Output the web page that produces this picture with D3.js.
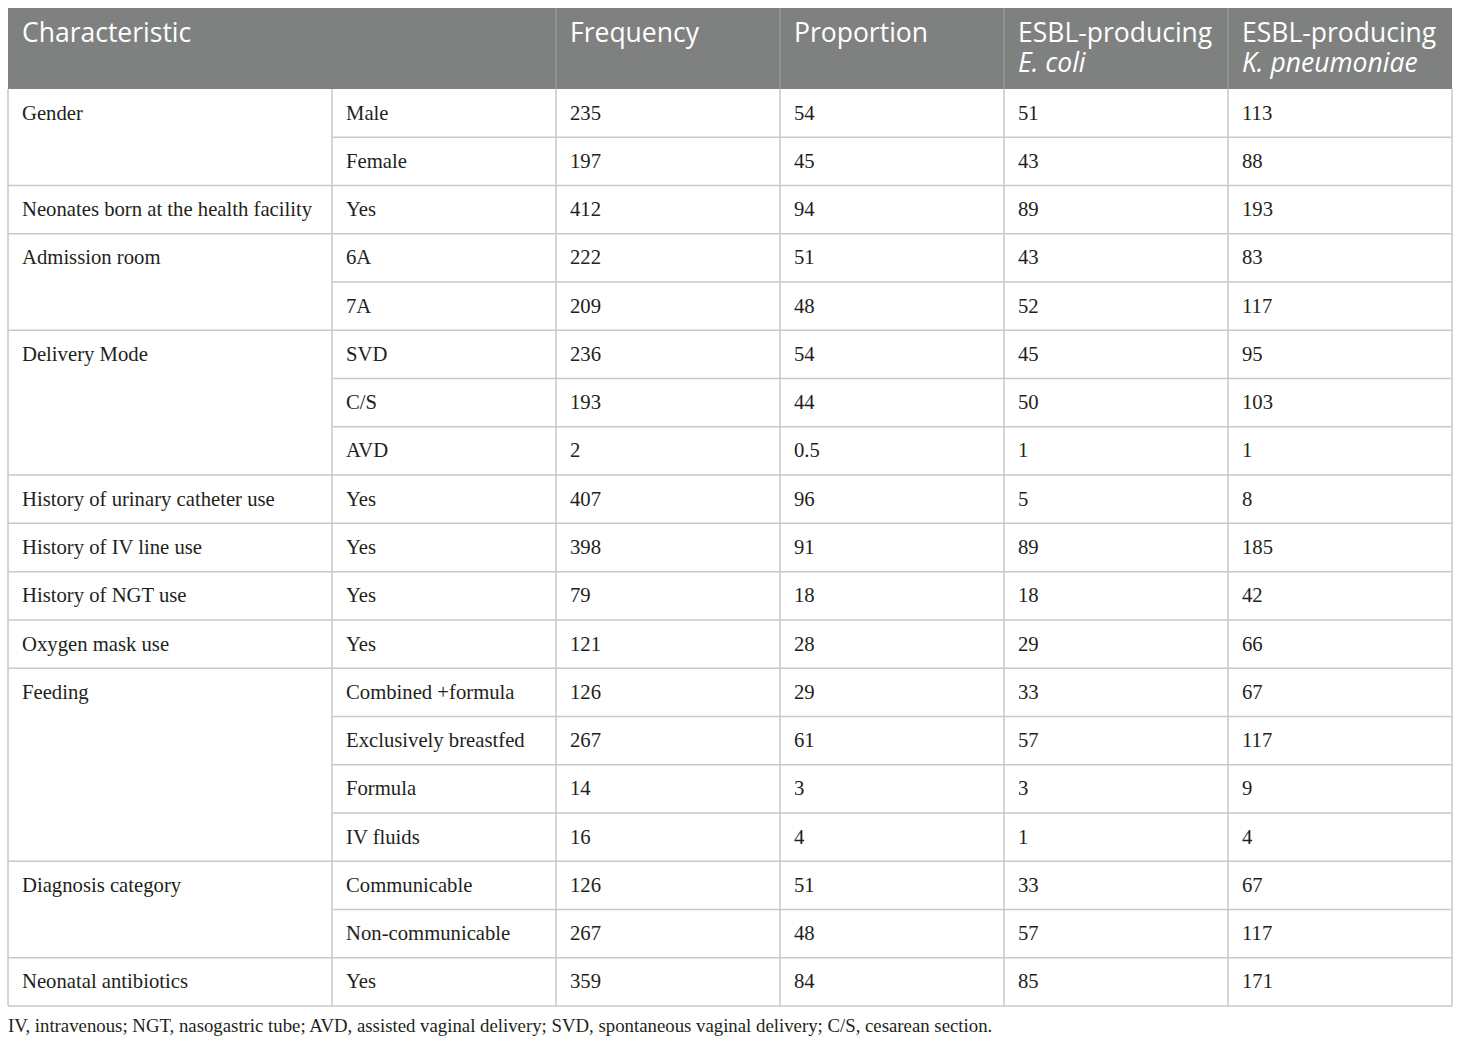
<!DOCTYPE html>
<html>
<head>
<meta charset="utf-8">
<script src="https://cdn.jsdelivr.net/npm/d3@7"></script>
<style>
    body { margin: 0; background: #fff; }
    .head { font-family: "Open Sans", sans-serif; fill: #fff; font-size: 26.5px; }
    .cell { font-family: "Liberation Serif", serif; fill: #231f20; font-size: 20.7px; }
    .note { font-family: "Liberation Serif", serif; fill: #231f20; font-size: 18.8px; }
</style>
</head>
<body>
<div id="canvas"></div>
<script>
"use strict"

let svgWidth = 1460
let svgHeight = 1044

// ---------------- DATA ----------------
let headers = ["Characteristic", "", "Frequency", "Proportion", "ESBL-producing", "ESBL-producing"]
let headers2 = ["", "", "", "", "E. coli", "K. pneumoniae"]

let characteristic = [
    "Gender", "Gender",
    "Neonates born at the health facility",
    "Admission room", "Admission room",
    "Delivery Mode", "Delivery Mode", "Delivery Mode",
    "History of urinary catheter use",
    "History of IV line use",
    "History of NGT use",
    "Oxygen mask use",
    "Feeding", "Feeding", "Feeding", "Feeding",
    "Diagnosis category", "Diagnosis category",
    "Neonatal antibiotics"
]
let level = ["Male", "Female", "Yes", "6A", "7A", "SVD", "C/S", "AVD", "Yes", "Yes", "Yes", "Yes",
    "Combined +formula", "Exclusively breastfed", "Formula", "IV fluids",
    "Communicable", "Non-communicable", "Yes"]
let frequency = [235, 197, 412, 222, 209, 236, 193, 2, 407, 398, 79, 121, 126, 267, 14, 16, 126, 267, 359]
let proportion = [54, 45, 94, 51, 48, 54, 44, 0.5, 96, 91, 18, 28, 29, 61, 3, 4, 51, 48, 84]
let eColi = [51, 43, 89, 43, 52, 45, 50, 1, 5, 89, 18, 29, 33, 57, 3, 1, 33, 57, 85]
let kPneumoniae = [113, 88, 193, 83, 117, 95, 103, 1, 8, 185, 42, 66, 67, 117, 9, 4, 67, 117, 171]

let footnote = "IV, intravenous; NGT, nasogastric tube; AVD, assisted vaginal delivery; SVD, spontaneous vaginal delivery; C/S, cesarean section."

// ---------------- LAYOUT ----------------
let tableLeft = 8
let tableRight = 1452
let headTop = 8
let headBottom = 89
let tableBottom = 1006
let padX = 14
let gridColor = "#c9c9c9"

let svg = d3.select("#canvas")
    .append("svg")
    .attr("width", svgWidth)
    .attr("height", svgHeight)

// first column is wider, the rest share equal widths
let colWeights = [324, 224, 224, 224, 224, 224]
let colEdges = d3.cumsum([0].concat(colWeights))
let xScale = d3.scaleLinear()
    .domain([0, d3.sum(colWeights)])
    .range([tableLeft, tableRight])
let colX = function(i) { return xScale(colEdges[i]) }

let rowIdx = d3.range(level.length)
let yScale = d3.scaleBand()
    .domain(rowIdx)
    .range([headBottom, tableBottom])

let columns = [level, frequency, proportion, eColi, kPneumoniae]

// group rows that share a characteristic
let groups = []
rowIdx.forEach(function(i) {
    if (i === 0 || characteristic[i] !== characteristic[i - 1]) {
        groups.push({ label: characteristic[i], start: i, end: i })
    } else {
        groups[groups.length - 1].end = i
    }
})

// ---------------- HEADER ----------------
svg.append("rect")
    .attr("x", tableLeft)
    .attr("y", headTop)
    .attr("width", tableRight - tableLeft)
    .attr("height", headBottom - headTop)
    .attr("fill", "#7f8180")

svg.selectAll("line.headSep")
    .data([2, 3, 4, 5])
    .enter()
    .append("line")
    .attr("class", "headSep")
    .attr("x1", function(d) { return colX(d) })
    .attr("x2", function(d) { return colX(d) })
    .attr("y1", headTop)
    .attr("y2", headBottom)
    .attr("stroke", "#a3a4a4")
    .attr("stroke-width", 1)

// one text per header cell, the species name wraps onto a second line
let headCells = svg.selectAll("text.headCell")
    .data(headers.map(function(d, i) { return { line1: d, line2: headers2[i], col: i } })
        .filter(function(d) { return d.line1 !== "" }))
    .enter()
    .append("text")
    .attr("class", "head headCell")
    .attr("y", 42)

headCells.append("tspan")
    .attr("x", function(d) { return colX(d.col) + padX })
    .text(function(d) { return d.line1 })

headCells.filter(function(d) { return d.line2 !== "" })
    .append("tspan")
    .attr("x", function(d) { return colX(d.col) + padX })
    .attr("dy", 30)
    .attr("font-style", "italic")
    .text(function(d) { return d.line2 })

// ---------------- GRID ----------------
let grid = svg.append("g")
    .attr("stroke", gridColor)
    .attr("stroke-width", 1.5)

// horizontal lines: full width between groups, partial inside groups
rowIdx.forEach(function(i) {
    let y = yScale(i) + yScale.bandwidth()
    let isGroupEnd = i === level.length - 1 || characteristic[i] !== characteristic[i + 1]
    grid.append("line")
        .attr("x1", isGroupEnd ? tableLeft : colX(1))
        .attr("x2", tableRight)
        .attr("y1", y)
        .attr("y2", y)
})

d3.range(colWeights.length + 1).forEach(function(c) {
    grid.append("line")
        .attr("x1", colX(c))
        .attr("x2", colX(c))
        .attr("y1", headBottom)
        .attr("y2", tableBottom)
})

// ---------------- CELLS ----------------
svg.selectAll("text.group")
    .data(groups)
    .enter()
    .append("text")
    .attr("class", "cell")
    .attr("x", colX(0) + padX)
    .attr("y", function(d) { return yScale(d.start) + yScale.bandwidth() / 2 + 6.5 })
    .text(function(d) { return d.label })

columns.forEach(function(values, c) {
    svg.selectAll("text.col" + c)
        .data(values)
        .enter()
        .append("text")
        .attr("class", "cell col" + c)
        .attr("x", colX(c + 1) + padX)
        .attr("y", function(d, i) { return yScale(i) + yScale.bandwidth() / 2 + 6.5 })
        .text(function(d) { return d })
})

// ---------------- FOOTNOTE ----------------
svg.append("text")
    .attr("class", "note")
    .attr("x", tableLeft)
    .attr("y", 1032)
    .text(footnote)
</script>
</body>
</html>
